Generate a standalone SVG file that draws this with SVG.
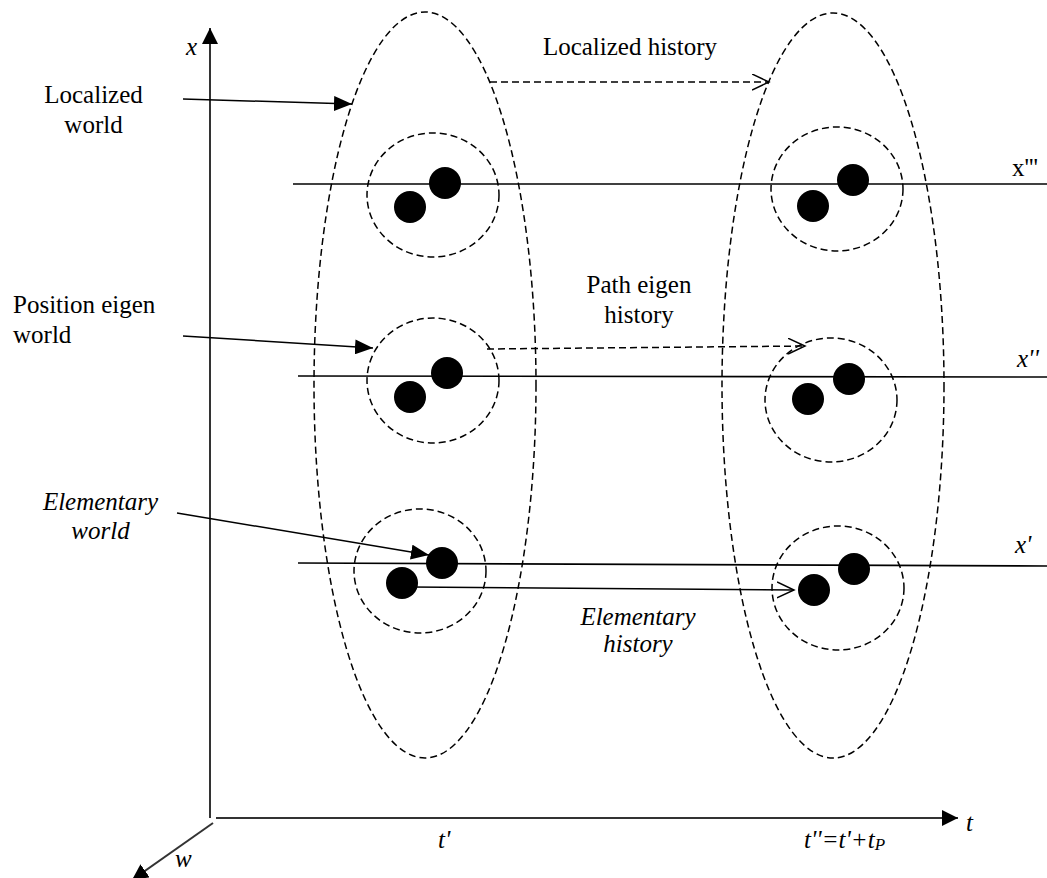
<svg xmlns="http://www.w3.org/2000/svg" width="1047" height="878" viewBox="0 0 1047 878">
<style>
  text { font-family: "Liberation Serif", "Times New Roman", serif; font-size: 25px; fill: #000; }
  .it { font-style: italic; }
  .dash { fill: none; stroke: #000; stroke-width: 1.5; stroke-dasharray: 7 4; }
  .line { fill: none; stroke: #000; stroke-width: 1.6; }
  .axis { fill: none; stroke: #333; stroke-width: 2; }
  .dot { fill: #000; }
  .conn { fill: none; stroke: #000; stroke-width: 1.5; }
  .conndash { fill: none; stroke: #000; stroke-width: 1.5; stroke-dasharray: 7 4; }
</style>
<defs>
  <marker id="fillHead" markerUnits="userSpaceOnUse" markerWidth="19" markerHeight="15" refX="18" refY="7.5" orient="auto">
    <path d="M0,0 L18,7.5 L0,15 z" fill="#000"/>
  </marker>
  <marker id="axisHead" markerUnits="userSpaceOnUse" markerWidth="17" markerHeight="17" refX="16" refY="8" orient="auto">
    <path d="M0,0 L16,8 L0,16 z" fill="#000"/>
  </marker>
  <marker id="openHead" markerUnits="userSpaceOnUse" markerWidth="20" markerHeight="20" refX="17" refY="8.5" orient="auto">
    <path d="M0,0.5 L17,8.5 L0,16.5" fill="none" stroke="#000" stroke-width="1.5"/>
  </marker>
</defs>
<rect width="1047" height="878" fill="#fff"/>

<g id="axes">
  <line class="axis" x1="210" y1="818" x2="210" y2="28" marker-end="url(#axisHead)"/>
  <line class="axis" x1="216" y1="818" x2="958" y2="818" marker-end="url(#axisHead)"/>
  <line class="axis" x1="213" y1="823" x2="132" y2="880" marker-end="url(#axisHead)"/>
  <text class="it" x="186" y="55">x</text>
  <text class="it" x="966" y="831">t</text>
  <text class="it" x="175" y="867">w</text>
  <text class="it" x="438" y="848">t'</text>
  <text class="it" x="804" y="848">t''=t'+t<tspan font-size="17" dy="2">P</tspan></text>
</g>

<g id="levels">
  <line class="line" x1="293" y1="184" x2="1047" y2="184"/>
  <line class="line" x1="298" y1="376" x2="1047" y2="377"/>
  <line class="line" x1="298" y1="563" x2="1047" y2="566"/>
  <text x="1012" y="176">x'''</text>
  <text class="it" x="1017" y="367">x''</text>
  <text class="it" x="1015" y="553">x'</text>
</g>

<g id="localized-world-1">
  <ellipse class="dash" cx="425" cy="385" rx="111" ry="373"/>
</g>
<g id="localized-world-2">
  <ellipse class="dash" cx="833" cy="385.5" rx="111" ry="372.5"/>
</g>

<g id="world-top-left">
  <ellipse class="dash" cx="433" cy="195" rx="66" ry="62"/>
  <circle class="dot" cx="445" cy="183" r="16"/>
  <circle class="dot" cx="410" cy="207" r="16"/>
</g>
<g id="world-top-right">
  <ellipse class="dash" cx="837" cy="189" rx="66" ry="62"/>
  <circle class="dot" cx="853" cy="180" r="16"/>
  <circle class="dot" cx="813" cy="206" r="16"/>
</g>
<g id="world-mid-left">
  <ellipse class="dash" cx="433" cy="380.5" rx="66" ry="62.5"/>
  <circle class="dot" cx="447" cy="373" r="16"/>
  <circle class="dot" cx="410" cy="397" r="16"/>
</g>
<g id="world-mid-right">
  <ellipse class="dash" cx="831" cy="400" rx="66" ry="62"/>
  <circle class="dot" cx="849" cy="379" r="16"/>
  <circle class="dot" cx="808" cy="399" r="16"/>
</g>
<g id="world-bottom-left">
  <ellipse class="dash" cx="420" cy="571" rx="66" ry="62"/>
  <circle class="dot" cx="442" cy="563" r="16"/>
  <circle class="dot" cx="402" cy="583" r="16"/>
</g>
<g id="world-bottom-right">
  <ellipse class="dash" cx="838" cy="588" rx="66" ry="62"/>
  <circle class="dot" cx="854" cy="569" r="16"/>
  <circle class="dot" cx="814" cy="590" r="16"/>
</g>

<g id="label-localized-world">
  <text x="93.5" y="103" text-anchor="middle">Localized</text>
  <text x="93.5" y="133" text-anchor="middle">world</text>
</g>
<g id="label-position-eigen-world">
  <text x="13" y="313">Position eigen</text>
  <text x="13" y="343">world</text>
</g>
<g id="label-elementary-world">
  <text class="it" x="100.5" y="510" text-anchor="middle">Elementary</text>
  <text class="it" x="100.5" y="539" text-anchor="middle">world</text>
</g>
<g id="label-localized-history">
  <text x="630" y="55" text-anchor="middle">Localized history</text>
</g>
<g id="label-path-eigen-history">
  <text x="639" y="293" text-anchor="middle">Path eigen</text>
  <text x="639" y="323" text-anchor="middle">history</text>
</g>
<g id="label-elementary-history">
  <text class="it" x="638" y="625" text-anchor="middle">Elementary</text>
  <text class="it" x="638" y="652" text-anchor="middle">history</text>
</g>

<g id="connectors">
  <line class="conn" x1="183" y1="99" x2="352" y2="104" marker-end="url(#fillHead)"/>
  <line class="conn" x1="183" y1="336" x2="373" y2="348" marker-end="url(#fillHead)"/>
  <line class="conn" x1="177" y1="513" x2="429" y2="555" marker-end="url(#fillHead)"/>
  <line class="conndash" x1="490" y1="82" x2="769" y2="82" marker-end="url(#openHead)"/>
  <line class="conndash" x1="487" y1="349" x2="805" y2="346" marker-end="url(#openHead)"/>
  <line class="conn" x1="410" y1="587" x2="794" y2="590" marker-end="url(#openHead)"/>
</g>
</svg>
